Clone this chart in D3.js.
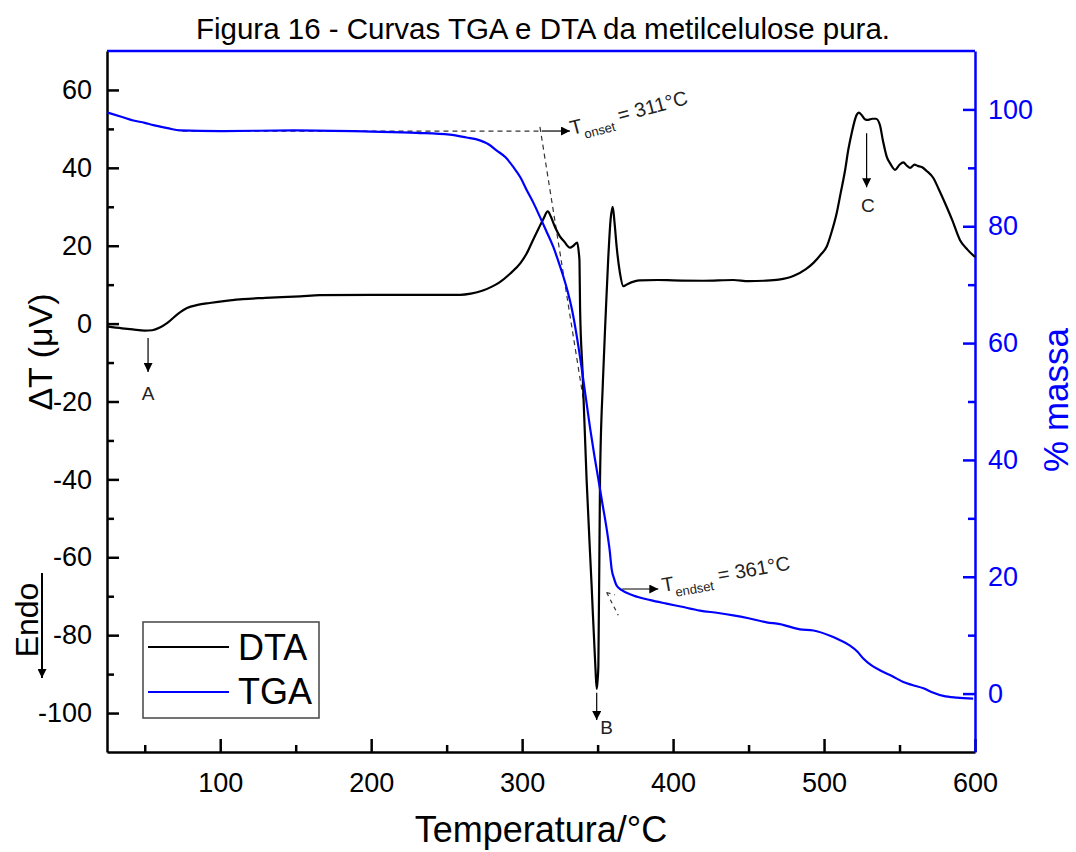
<!DOCTYPE html>
<html>
<head>
<meta charset="utf-8">
<script src="https://cdn.jsdelivr.net/npm/d3@7"></script>
<style>
  body { margin: 0; background: #fff; }
  svg { display: block; font-family: "Liberation Sans", Arial, sans-serif; }
</style>
</head>
<body>
<div id="chart"></div>
<script>
// DTA curve (temperature in °C, ΔT in µV)
const dtaTemp = [25, 35, 42, 50, 55, 60, 65, 72, 78, 85, 93, 105, 115, 130, 153, 166, 200, 240, 259, 266, 274, 280, 285, 292, 299, 303, 307, 311, 314, 317, 319, 322, 325, 328, 331.7, 334, 336.5, 337.6, 338, 338.4, 340, 342.7, 346, 348.5, 349.4, 349.9, 350.5, 351.6, 353.5, 355.5, 357, 358.6, 360, 361.2, 362.6, 364.8, 367, 370, 378, 390, 400, 420, 440, 450, 460, 470, 480, 488, 493, 498, 501.8, 505, 508.4, 511, 514, 516, 518.3, 521.6, 523, 525, 527, 529.3, 532, 534.4, 537, 539, 541.5, 544, 547, 550, 552.5, 555, 557, 560, 562, 564.7, 568, 572.4, 576, 581.2, 585, 590, 595, 600];
const dtaValue = [-0.7, -1.2, -1.5, -1.8, -1.7, -1.0, 0.2, 2.5, 4.0, 4.8, 5.3, 5.9, 6.3, 6.6, 7.0, 7.3, 7.4, 7.4, 7.4, 7.7, 8.5, 9.5, 10.6, 12.8, 15.6, 18.0, 21.3, 24.5, 26.8, 28.8, 27.5, 24.6, 22.4, 21.0, 19.5, 20.0, 20.8, 18, 16, 3.6, -12, -40, -67, -88, -93.8, -92, -88, -40, -15, 3.6, 16.4, 26.7, 30, 26, 19.8, 13, 9.6, 10.2, 11.1, 11.2, 11.1, 11.0, 11.2, 10.9, 11.0, 11.3, 12.3, 14.0, 15.6, 17.8, 19.8, 23.5, 28.4, 33.5, 39.5, 44.5, 48.9, 53.6, 54.2, 53.5, 52.5, 52.3, 52.6, 52.6, 51, 47, 42.9, 41, 39.5, 40.8, 41.4, 40.5, 40, 40.8, 40.5, 40.2, 39.2, 37.4, 34.5, 30, 26.5, 21.5, 19, 17.1];

// TGA curve (temperature in °C, % mass)
const tgaTemp = [25, 35, 42.4, 50, 55.7, 65, 73.4, 100, 150, 200, 230, 252, 263, 272, 278, 283, 289, 294, 299, 303, 307.5, 311.8, 316, 320.6, 324, 327.3, 330, 332.8, 336, 339, 342, 345, 348, 350.5, 353, 356, 358, 359.3, 361, 362.6, 366, 373.6, 385, 395.7, 405, 417.8, 430, 439.9, 450, 462, 470.8, 484, 493, 504, 510, 517.2, 522, 526, 531, 537, 545, 552.5, 558, 565.8, 572, 579, 588, 598.8];
const tgaValue = [99.5, 98.7, 98.1, 97.7, 97.3, 96.8, 96.4, 96.3, 96.4, 96.2, 96.0, 95.7, 95.2, 94.7, 94.0, 93.0, 91.8, 90.2, 88.3, 86.2, 84.0, 81.6, 79.2, 76.5, 74.0, 71.4, 69, 66, 61.5, 56.5, 51, 45.5, 40.5, 36.7, 32.8, 28.2, 24.5, 21.3, 19.6, 18.5, 17.7, 16.8, 16.0, 15.4, 14.9, 14.2, 13.8, 13.4, 12.9, 12.2, 11.9, 11.0, 10.8, 9.9, 9.2, 8.2, 7.2, 6.0, 4.9, 4.0, 3.0, 2.0, 1.5, 0.9, 0.2, -0.4, -0.7, -0.85];

// ticks
const xTicks = [100, 200, 300, 400, 500, 600];
const xMinorTicks = [50, 150, 250, 350, 450, 550];
const dtaTicks = [-100, -80, -60, -40, -20, 0, 20, 40, 60];
const dtaMinorTicks = [-90, -70, -50, -30, -10, 10, 30, 50];
const tgaTicks = [0, 20, 40, 60, 80, 100];
const tgaMinorTicks = [10, 30, 50, 70, 90];

// peak markers: label, temperature, arrow start / tip and label height in DTA units
const peakLabels = ["A", "B", "C"];
const peakTemps = [52.2, 349.4, 528.2];
const peakFrom = [-3.7, -94.8, 48.9];
const peakTo = [-12.4, -101.8, 35];
const peakTextY = [-19.5, -105.5, 28.7];
const peakTextT = [52.2, 356, 529];

const width = 1076, height = 852;
const blue = "#0000ff";
const plain = d => String(d); // hyphen minus like the original

const svg = d3.select("#chart").append("svg")
    .attr("width", width)
    .attr("height", height);

svg.append("rect").attr("width", width).attr("height", height).attr("fill", "#fff");

const x = d3.scaleLinear().domain([25, 600]).range([107, 975]);
const yDta = d3.scaleLinear().domain([-110, 70]).range([752, 51]);
const yTga = d3.scaleLinear().domain([-10, 110]).range([752, 51]);

svg.append("defs").append("marker")
    .attr("id", "head")
    .attr("viewBox", "0 0 10 10")
    .attr("refX", 10).attr("refY", 5)
    .attr("markerUnits", "userSpaceOnUse")
    .attr("markerWidth", 16).attr("markerHeight", 9)
    .attr("orient", "auto")
  .append("path")
    .attr("d", "M0,0L10,5L0,10Z")
    .attr("fill", "#000");

function styleAxis(g, color, size) {
    g.attr("font-family", null);
    g.select(".domain").attr("stroke", color).attr("stroke-width", 2.5);
    g.selectAll(".tick line").attr("stroke", color).attr("stroke-width", 2.5);
    g.selectAll(".tick text").attr("fill", color).style("font-size", size + "px");
}

// bottom axis
svg.append("g")
    .attr("transform", "translate(0,752)")
    .call(d3.axisBottom(x).tickValues(xTicks).tickFormat(plain).tickSize(-13).tickSizeOuter(0).tickPadding(21))
    .call(styleAxis, "#000", 27);
svg.append("g")
    .attr("transform", "translate(0,752)")
    .call(d3.axisBottom(x).tickValues(xMinorTicks).tickSize(-7).tickSizeOuter(0).tickFormat(""))
    .call(styleAxis, "#000", 27)
    .select(".domain").remove();

// left axis
svg.append("g")
    .attr("transform", "translate(107,0)")
    .call(d3.axisLeft(yDta).tickValues(dtaTicks).tickFormat(plain).tickSize(-12).tickSizeOuter(0).tickPadding(15))
    .call(styleAxis, "#000", 27);
svg.append("g")
    .attr("transform", "translate(107,0)")
    .call(d3.axisLeft(yDta).tickValues(dtaMinorTicks).tickSize(-7).tickSizeOuter(0).tickFormat(""))
    .call(styleAxis, "#000", 27)
    .select(".domain").remove();

// right axis
svg.append("g")
    .attr("transform", "translate(975,0)")
    .call(d3.axisRight(yTga).tickValues(tgaTicks).tickFormat(plain).tickSize(-12).tickSizeOuter(0).tickPadding(13))
    .call(styleAxis, blue, 27);
svg.append("g")
    .attr("transform", "translate(975,0)")
    .call(d3.axisRight(yTga).tickValues(tgaMinorTicks).tickSize(-7).tickSizeOuter(0).tickFormat(""))
    .call(styleAxis, blue, 27)
    .select(".domain").remove();

// top frame
svg.append("line")
    .attr("x1", 107).attr("x2", 975)
    .attr("y1", 51).attr("y2", 51)
    .attr("stroke", blue).attr("stroke-width", 2.5);

// onset / endset construction lines
const dash = "5,4";
svg.append("line")
    .attr("x1", x(75)).attr("x2", x(313))
    .attr("y1", yTga(96.3)).attr("y2", yTga(96.3))
    .attr("stroke", "#333").attr("stroke-width", 1.2).attr("stroke-dasharray", dash);
svg.append("line")
    .attr("x1", x(311.8)).attr("x2", x(340.6))
    .attr("y1", yTga(97)).attr("y2", yTga(50.3))
    .attr("stroke", "#333").attr("stroke-width", 1.2).attr("stroke-dasharray", dash);
svg.append("line")
    .attr("x1", x(356)).attr("x2", x(363.7))
    .attr("y1", yTga(17.3)).attr("y2", yTga(13.4))
    .attr("stroke", "#333").attr("stroke-width", 1.2).attr("stroke-dasharray", "4,4");
svg.append("line")
    .attr("x1", x(356)).attr("x2", x(361.5))
    .attr("y1", yTga(17.3)).attr("y2", yTga(16.9))
    .attr("stroke", "#333").attr("stroke-width", 1.2).attr("stroke-dasharray", "4,4");

// curves
const dtaLine = d3.line()
    .x(d => x(d[0]))
    .y(d => yDta(d[1]))
    .curve(d3.curveMonotoneX);
const tgaLine = d3.line()
    .x(d => x(d[0]))
    .y(d => yTga(d[1]))
    .curve(d3.curveMonotoneX);

svg.append("path")
    .datum(d3.zip(dtaTemp, dtaValue))
    .attr("fill", "none")
    .attr("stroke", "#000")
    .attr("stroke-width", 2.2)
    .attr("stroke-linejoin", "round")
    .attr("d", dtaLine);

svg.append("path")
    .datum(d3.zip(tgaTemp, tgaValue))
    .attr("fill", "none")
    .attr("stroke", blue)
    .attr("stroke-width", 2.2)
    .attr("stroke-linejoin", "round")
    .attr("d", tgaLine);

// onset / endset arrows and labels
svg.append("line")
    .attr("x1", x(313)).attr("x2", x(331.7))
    .attr("y1", yTga(96.3)).attr("y2", yTga(96.3))
    .attr("stroke", "#000").attr("stroke-width", 1.2)
    .attr("marker-end", "url(#head)");
svg.append("line")
    .attr("x1", x(366.3)).attr("x2", x(390.2))
    .attr("y1", yTga(17.9)).attr("y2", yTga(17.9))
    .attr("stroke", "#000").attr("stroke-width", 1.2)
    .attr("marker-end", "url(#head)");

function tempLabel(t, v, angle, sub, rest) {
    const txt = svg.append("text")
        .attr("transform", `translate(${x(t)},${yTga(v)}) rotate(${angle})`)
        .attr("fill", "#222")
        .style("font-size", "20px");
    txt.append("tspan").text("T");
    txt.append("tspan").attr("dy", 7).style("font-size", "13px").text(sub);
    txt.append("tspan").attr("dy", -7).text(" = " + rest);
}
tempLabel(333, 95.6, -15, "onset", "311°C");
tempLabel(393.3, 17.4, -10, "endset", "361°C");

// peak markers
peakLabels.forEach((lab, i) => {
    svg.append("line")
        .attr("x1", x(peakTemps[i])).attr("x2", x(peakTemps[i]))
        .attr("y1", yDta(peakFrom[i])).attr("y2", yDta(peakTo[i]))
        .attr("stroke", "#000").attr("stroke-width", 1.2)
        .attr("marker-end", "url(#head)");
    svg.append("text")
        .attr("x", x(peakTextT[i]))
        .attr("y", yDta(peakTextY[i]))
        .attr("text-anchor", "middle")
        .attr("fill", "#222")
        .style("font-size", "19px")
        .text(lab);
});

// legend
const legend = svg.append("g");
legend.append("rect")
    .attr("x", 143).attr("y", 622)
    .attr("width", 176).attr("height", 96)
    .attr("fill", "#fff")
    .attr("stroke", "#444").attr("stroke-width", 1.5);
[["DTA", "#000"], ["TGA", blue]].forEach((d, i) => {
    legend.append("line")
        .attr("x1", 148).attr("x2", 229)
        .attr("y1", 647 + i * 45).attr("y2", 647 + i * 45)
        .attr("stroke", d[1]).attr("stroke-width", 2.2);
    legend.append("text")
        .attr("x", 238).attr("y", 660 + i * 44)
        .style("font-size", "36px")
        .text(d[0]);
});

// Endo marker
svg.append("text")
    .attr("transform", "translate(38,620) rotate(-90)")
    .attr("text-anchor", "middle")
    .style("font-size", "32px")
    .text("Endo");
svg.append("line")
    .attr("x1", 42).attr("x2", 42)
    .attr("y1", 573).attr("y2", 678)
    .attr("stroke", "#000").attr("stroke-width", 2)
    .attr("marker-end", "url(#head)");

// titles
svg.append("text")
    .attr("x", 543).attr("y", 39)
    .attr("text-anchor", "middle")
    .style("font-size", "29.5px")
    .text("Figura 16 - Curvas TGA e DTA da metilcelulose pura.");

svg.append("text")
    .attr("x", 541).attr("y", 842)
    .attr("text-anchor", "middle")
    .style("font-size", "36px")
    .text("Temperatura/°C");

svg.append("text")
    .attr("transform", "translate(52,352) rotate(-90)")
    .attr("text-anchor", "middle")
    .style("font-size", "34px")
    .text("ΔT (μV)");

svg.append("text")
    .attr("transform", "translate(1068,400) rotate(-90)")
    .attr("text-anchor", "middle")
    .attr("fill", blue)
    .style("font-size", "35px")
    .text("% massa");
</script>
</body>
</html>
